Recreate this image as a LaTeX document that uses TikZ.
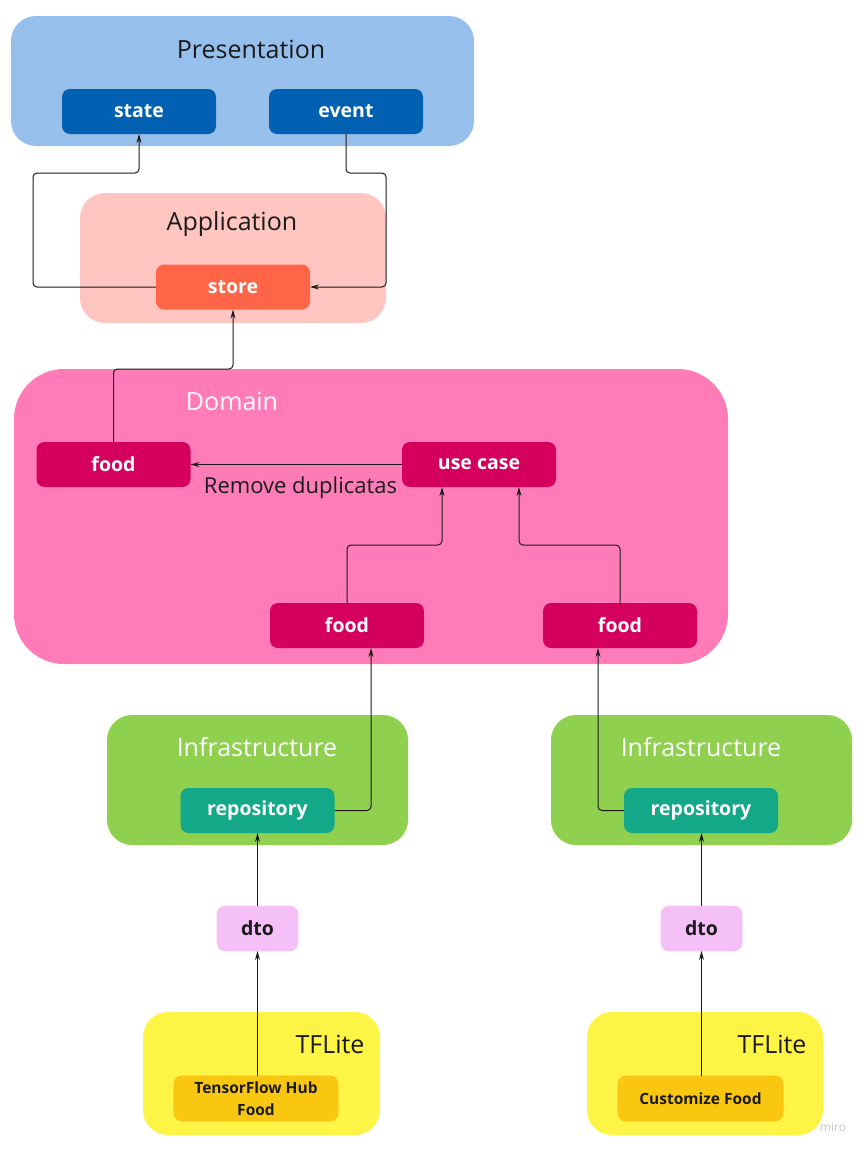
\documentclass[tikz,border=0pt]{standalone}
\usepackage{fontspec}
\setmainfont{Open Sans}
\usepackage{tikz}
\usetikzlibrary{calc}
\usetikzlibrary{positioning}
\usetikzlibrary{arrows.meta}

\definecolor{presbg}{HTML}{97BFEC}
\definecolor{presbox}{HTML}{0060B2}
\definecolor{appbg}{HTML}{FFC6C1}
\definecolor{appbox}{HTML}{FF6648}
\definecolor{dombg}{HTML}{FF7CB9}
\definecolor{dombox}{HTML}{D5005E}
\definecolor{infrabg}{HTML}{8FD14F}
\definecolor{infrabox}{HTML}{12A888}
\definecolor{dtobg}{HTML}{F5BFF8}
\definecolor{tflbg}{HTML}{FEF445}
\definecolor{tflbox}{HTML}{FAC710}
\definecolor{inktext}{HTML}{1A1A1A}

\begin{document}
\begin{tikzpicture}[%
  x=1pt, y=-1pt,
  >={Stealth[length=9pt,width=5pt]},
  layer/.style={rounded corners=25pt, inner sep=0pt, outer sep=0pt},
  layertitle/.style={font=\fontsize{25}{30}\selectfont, inner sep=0pt},
  item/.style={rounded corners=8pt, inner sep=0pt, outer sep=0pt,
    minimum width=154pt, minimum height=45pt, text=white,
    font=\fontsize{19.5}{23}\selectfont\bfseries},
  link/.style={->, line width=1pt, inktext, rounded corners=4pt}
]

  \useasboundingbox (0,0) rectangle (867,1152);

  % layers
  \node[layer, fill=presbg, minimum width=463pt, minimum height=130pt] (pres) at (242.5,81) {};
  \node[layer, fill=appbg, minimum width=306pt, minimum height=130pt] (app) at (233,258) {};
  \node[layer, fill=dombg, rounded corners=50pt, minimum width=714pt, minimum height=295pt] (dom) at (371,516.5) {};
  \node[layer, fill=infrabg, minimum width=301pt, minimum height=130pt] (infraA) at (257.5,780) {};
  \node[layer, fill=infrabg, minimum width=301pt, minimum height=130pt] (infraB) at (701.5,780) {};
  \node[layer, fill=tflbg, minimum width=237pt, minimum height=123pt] (tflA) at (261.5,1073.5) {};
  \node[layer, fill=tflbg, minimum width=236pt, minimum height=123pt] (tflB) at (705,1073.5) {};

  % layer titles
  \node[layertitle, text=inktext] (presT) at (251,49) {Presentation};
  \node[layertitle, text=inktext] (appT) at (232,224) {Application};
  \node[layertitle, text=white] (domT) at (232,401) {Domain};
  \node[layertitle, text=white] (infraAT) at (257,747) {Infrastructure};
  \node[layertitle, text=white] (infraBT) at (701,747) {Infrastructure};
  \node[layertitle, text=inktext] (tflAT) at (330,1044) {TFLite};
  \node[layertitle, text=inktext] (tflBT) at (772,1044) {TFLite};

  % items
  \node[item, fill=presbox] (state) at (139,111.5) {state};
  \node[item, fill=presbox] (event) at (346,111.5) {event};
  \node[item, fill=appbox] (store) at (233,287) {store};
  \node[item, fill=dombox] (foodA) at (113.5,464.5) {food};
  \node[item, fill=dombox] (ucase) at (479,464.5) {use case};
  \node[item, fill=dombox] (foodB) at (347,625.5) {food};
  \node[item, fill=dombox] (foodC) at (620,625.5) {food};
  \node[item, fill=infrabox] (repoA) at (257.5,810.5) {repository};
  \node[item, fill=infrabox] (repoB) at (701,810.5) {repository};
  \node[item, fill=dtobg, draw=dtobg!80!magenta!60, line width=0.6pt,
    minimum width=81pt, text=inktext] (dtoA) at (257.5,928.5) {dto};
  \node[item, fill=dtobg, draw=dtobg!80!magenta!60, line width=0.6pt,
    minimum width=81pt, text=inktext] (dtoB) at (701.5,928.5) {dto};
  \node[item, fill=tflbox, draw=tflbox!85!orange, line width=0.6pt,
    minimum width=164pt, text=inktext, align=center,
    font=\fontsize{15.5}{22}\selectfont\bfseries] (hub) at (256,1098.5) {TensorFlow Hub\\Food};
  \node[item, fill=tflbox, draw=tflbox!85!orange, line width=0.6pt,
    minimum width=165pt, text=inktext,
    font=\fontsize{15.5}{18}\selectfont\bfseries] (custom) at (700.5,1098.5) {Customize Food};

  % connectors
  \draw[link] (store.west) -| (33,173) -| (state.south);
  \draw[link] (event.south) |- (386,173) |- (store.east);
  \draw[link] (foodA.north) |- (233,369) -- (store.south);
  \draw[link] (ucase.west) -- (foodA.east)
    node[pos=0.48, below=12pt, inner sep=0pt, text=inktext,
      font=\fontsize{22}{26}\selectfont] (dupT) {Remove duplicatas};
  \draw[link] (foodB.north) |- (442,545) -- ([xshift=-37]ucase.south);
  \draw[link] (foodC.north) |- (519,545) -- ([xshift=40]ucase.south);
  \draw[link] (repoA.east) -| ([xshift=24]foodB.south);
  \draw[link] (repoB.west) -| ([xshift=-22]foodC.south);
  \draw[link] (dtoA.north) -- (dtoA.north |- repoA.south);
  \draw[link] (dtoB.north) -- (dtoB.north |- repoB.south);
  \draw[link] (hub.north -| dtoA.south) -- (dtoA.south);
  \draw[link] (custom.north -| dtoB.south) -- (dtoB.south);

  \node[text=black!22, font=\fontsize{12}{14}\selectfont] (miro) at (833,1127) {miro};

\end{tikzpicture}
\end{document}
